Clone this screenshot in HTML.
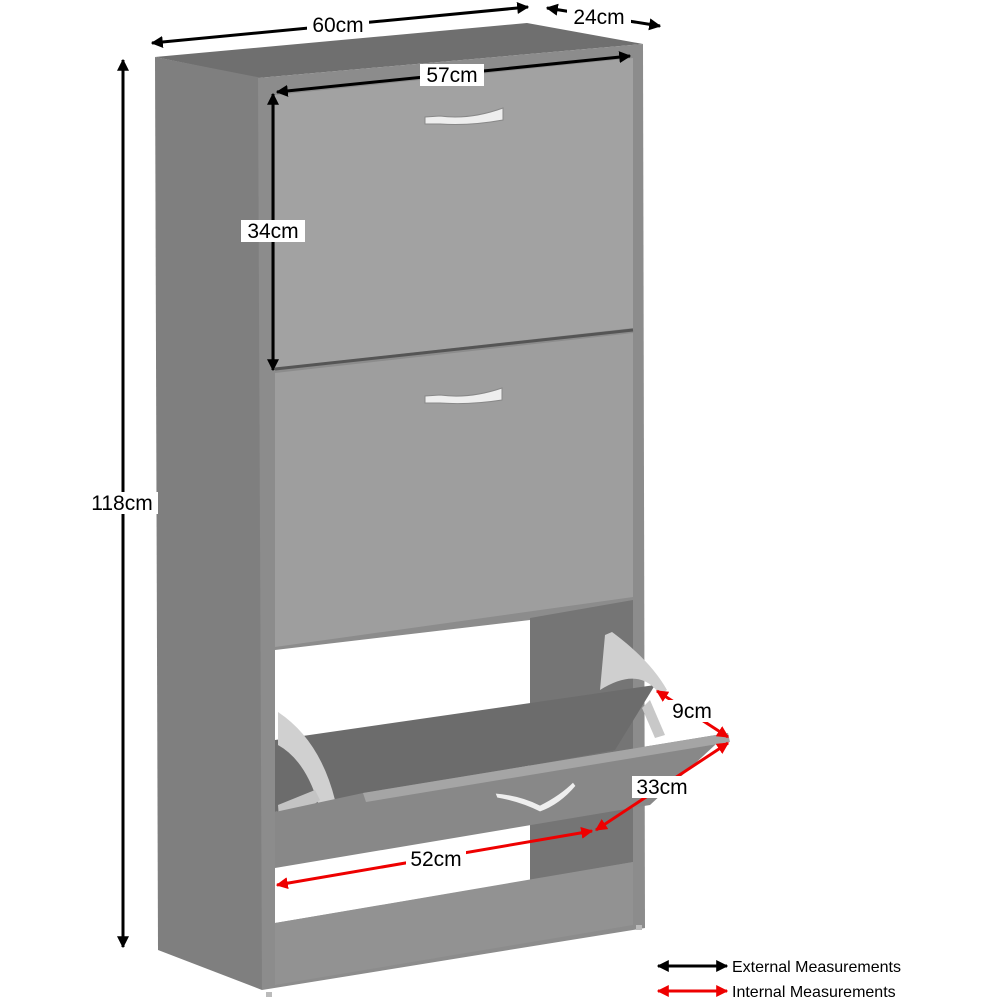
<!DOCTYPE html>
<html><head><meta charset="utf-8"><style>
html,body{margin:0;padding:0;background:#fff}
svg{display:block}
text{font-family:"Liberation Sans",sans-serif}
</style></head><body>
<svg width="1000" height="1000" viewBox="0 0 1000 1000" xmlns="http://www.w3.org/2000/svg">
<defs>
<marker id="ab" viewBox="0 0 10 10" refX="9" refY="5" markerWidth="4" markerHeight="4" orient="auto-start-reverse"><path d="M0,0 L10,5 L0,10 z" fill="#000"/></marker>
<marker id="ar" viewBox="0 0 10 10" refX="9" refY="5" markerWidth="4" markerHeight="4" orient="auto-start-reverse"><path d="M0,0 L10,5 L0,10 z" fill="#e00"/></marker>
</defs>
<polygon points="155,57 527,23 643,44 258,78" fill="#6f6f6f"/>
<polygon points="155,57 262,78 262,990 158,950" fill="#7f7f7f"/>
<polygon points="258,78 643,44 645,928 262,990" fill="#8c8c8c"/>
<polygon points="530,618 633,600 633,862 530,880" fill="#757575"/>
<polygon points="275,650 530,620 530,880 275,923" fill="#fff"/>
<polygon points="275,923 633,862 633,925 275,985" fill="#929292"/>
<polygon points="275,95 633,58 633,328 275,368" fill="#a2a2a2"/>
<polygon points="275,373 633,333 633,597 275,647" fill="#9e9e9e"/>
<line x1="275" y1="369" x2="633" y2="330" stroke="#555" stroke-width="3"/>
<path d="M425,117 L440,116 Q470,120 503,108 L503,120 Q470,126 440,124 L425,124 z" fill="#eee" stroke="#888" stroke-width="1"/>
<path d="M425,396 L440,395 Q470,399 502,388 L502,400 Q470,405 440,403 L425,403 z" fill="#eee" stroke="#888" stroke-width="1"/>
<polygon points="275,740 655,685 615,750 275,812" fill="#6c6c6c"/>
<path d="M278,712 Q320,740 335,800 L318,803 Q305,760 278,745 z" fill="#d0d0d0"/>
<path d="M278,805 L315,790 L320,800 L280,830 z" fill="#c4c4c4"/>
<path d="M605,635 L612,632 Q650,660 667,690 L660,695 Q640,665 600,690 z" fill="#cfcfcf"/>
<path d="M650,700 L665,735 L655,738 L642,708 z" fill="#c8c8c8"/>
<polygon points="275,812 363,793 728,733 650,805 275,868" fill="#888888"/>
<polygon points="363,793 728,733 730,742 366,802" fill="#a5a5a5"/>
<path d="M495,793 Q520,795 540,805 Q560,795 573,782 L576,786 Q560,805 540,812 Q520,802 497,798 z" fill="#eee" stroke="#888" stroke-width="1"/>
<rect x="266" y="992" width="6" height="5" fill="#bbb"/>
<rect x="636" y="925" width="6" height="5" fill="#bbb"/>
<g stroke="#000" stroke-width="3" fill="none">
<line x1="152" y1="43" x2="528" y2="7" marker-start="url(#ab)" marker-end="url(#ab)"/>
<line x1="547" y1="8" x2="660" y2="26" marker-start="url(#ab)" marker-end="url(#ab)"/>
<line x1="277" y1="92" x2="630" y2="56" marker-start="url(#ab)" marker-end="url(#ab)"/>
<line x1="273" y1="94" x2="273" y2="370" marker-start="url(#ab)" marker-end="url(#ab)"/>
<line x1="123" y1="60" x2="123" y2="947" marker-start="url(#ab)" marker-end="url(#ab)"/>
<line x1="658" y1="966" x2="727" y2="966" marker-start="url(#ab)" marker-end="url(#ab)"/>
</g>
<g stroke="#e00" stroke-width="3" fill="none">
<line x1="657" y1="691" x2="728" y2="737" marker-start="url(#ar)" marker-end="url(#ar)"/>
<line x1="728" y1="743" x2="596" y2="830" marker-start="url(#ar)" marker-end="url(#ar)"/>
<line x1="277" y1="885" x2="592" y2="831" marker-start="url(#ar)" marker-end="url(#ar)"/>
<line x1="658" y1="991" x2="727" y2="991" marker-start="url(#ar)" marker-end="url(#ar)"/>
</g>
<g font-size="21" fill="#000">
<rect x="307" y="14" width="62" height="22" fill="#fff"/><text x="338" y="32" text-anchor="middle">60cm</text>
<rect x="567" y="6" width="64" height="22" fill="#fff"/><text x="599" y="24" text-anchor="middle">24cm</text>
<rect x="420" y="64" width="64" height="22" fill="#fff"/><text x="452" y="82" text-anchor="middle">57cm</text>
<rect x="241" y="220" width="64" height="22" fill="#fff"/><text x="273" y="238" text-anchor="middle">34cm</text>
<rect x="86" y="492" width="72" height="22" fill="#fff"/><text x="122" y="510" text-anchor="middle">118cm</text>
<rect x="667" y="700" width="50" height="22" fill="#fff"/><text x="692" y="718" text-anchor="middle">9cm</text>
<rect x="632" y="776" width="60" height="22" fill="#fff"/><text x="662" y="794" text-anchor="middle">33cm</text>
<rect x="406" y="848" width="60" height="22" fill="#fff"/><text x="436" y="866" text-anchor="middle">52cm</text>
</g>
<g font-size="16" fill="#000">
<text x="732" y="972">External Measurements</text>
<text x="732" y="997">Internal Measurements</text>
</g>
</svg>
</body></html>
